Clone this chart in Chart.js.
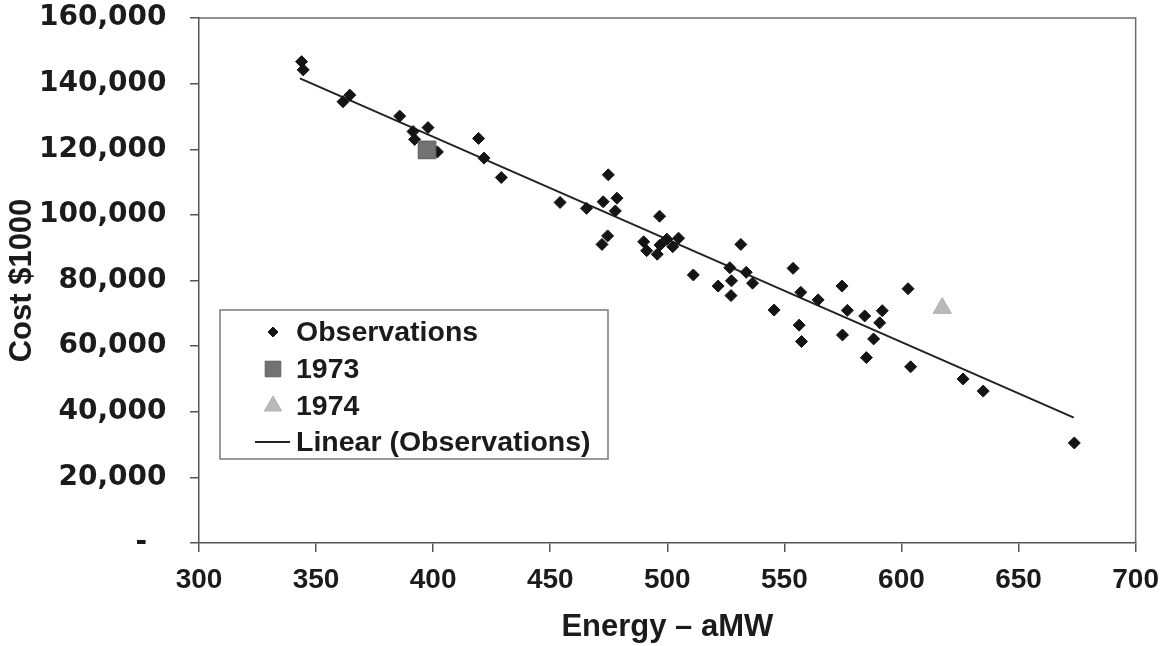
<!DOCTYPE html>
<html>
<head>
<meta charset="utf-8">
<script src="https://cdn.jsdelivr.net/npm/chart.js@4.4.1/dist/chart.umd.min.js"></script>
<style>
  body { margin: 0; background: #fff; }
  canvas { display: block; }
</style>
</head>
<body>
<canvas id="chart" width="1170" height="646"></canvas>
<script>
// observed points, energy in aMW and cost in $1000
const obsEnergy = [343.8, 344.5, 361.5, 364.4, 385.7, 391.4, 392.1, 397.8, 401.8, 419.4,
  421.7, 429.1, 454.2, 465.5, 474.8, 472.6, 478.5, 477.8, 474.5, 472.1,
  496.7, 489.9, 491.2, 495.7, 496.9, 499.8, 502.3, 504.8, 511.1, 521.7,
  526.7, 527.4, 527.2, 531.4, 533.7, 536.4, 545.6, 553.7, 557.0, 556.3,
  557.3, 564.4, 574.6, 576.9, 574.8, 584.3, 591.8, 590.7, 588.1, 585.0,
  602.8, 603.9, 626.3, 634.9, 673.8];
const obsCost = [146700, 144200, 134500, 136500, 130100, 125400, 123000, 126600, 119200, 123300,
  117300, 111400, 103800, 102000, 112200, 104000, 105100, 101200, 93600, 91000,
  99600, 91800, 89100, 88000, 90800, 92600, 90300, 92900, 81700, 78300,
  83900, 79900, 75400, 91000, 82500, 79200, 71000, 83700, 76400, 66400,
  61400, 74100, 78300, 70900, 63400, 69200, 70800, 67100, 62200, 56500,
  77500, 53700, 50000, 46300, 30500];

const yearLabels = ['1973', '1974'];
const yearEnergy = [397.4, 617.4];
const yearCost = [119800, 71600];

// trend line ends as drawn
const trendEnergy = [343.1, 673.6];
const trendCost = [141600, 38200];

const toPoints = (xs, ys) => xs.map((x, i) => ({ x: x, y: ys[i] }));

const FONT = "'Liberation Sans', Arial, sans-serif";
const WIDE = "'DejaVu Sans', Verdana, sans-serif";
const INK = '#1b1b1b';

// legend sits inside the plot, so draw it by hand
const boxLegend = {
  id: 'boxLegend',
  afterDatasetsDraw(chart) {
    const ctx = chart.ctx;
    const a = chart.chartArea;
    const x0 = a.left + 21, y0 = a.top + 292, w = 388, h = 149;
    ctx.save();
    ctx.fillStyle = '#fff';
    ctx.fillRect(x0, y0, w, h);
    ctx.strokeStyle = '#7a7a7a';
    ctx.lineWidth = 1.5;
    ctx.strokeRect(x0, y0, w, h);

    const rows = [22, 59, 96, 132];
    const mx = x0 + 53, tx = x0 + 76;
    chart.data.datasets.forEach(ds => {
      const y = y0 + rows[ds.legendRow];
      if (ds.showLine) {
        ctx.strokeStyle = ds.borderColor;
        ctx.lineWidth = 2;
        ctx.beginPath();
        ctx.moveTo(x0 + 35, y);
        ctx.lineTo(x0 + 70, y);
        ctx.stroke();
      } else {
        ctx.fillStyle = ds.backgroundColor;
        ctx.strokeStyle = ds.borderColor;
        ctx.lineWidth = 1;
        Chart.helpers.drawPoint(ctx, {
          pointStyle: ds.pointStyle, radius: ds.legendRadius, rotation: 0, borderWidth: 1
        }, mx, y);
      }
      ctx.fillStyle = INK;
      ctx.font = 'bold 28.5px ' + FONT;
      ctx.textBaseline = 'middle';
      ctx.fillText(ds.label, tx, y + 1);
    });
    ctx.restore();
  }
};

// top and right edges of the plot box
const frame = {
  id: 'frame',
  beforeDatasetsDraw(chart) {
    const ctx = chart.ctx;
    const a = chart.chartArea;
    ctx.save();
    ctx.strokeStyle = '#6a6a6a';
    ctx.lineWidth = 1.5;
    ctx.beginPath();
    ctx.moveTo(a.left, a.top);
    ctx.lineTo(a.right, a.top);
    ctx.lineTo(a.right, a.bottom);
    ctx.stroke();
    ctx.restore();
  }
};

new Chart(document.getElementById('chart'), {
  type: 'scatter',
  data: {
    datasets: [
      {
        label: 'Linear (Observations)',
        data: toPoints(trendEnergy, trendCost),
        showLine: true,
        borderColor: '#222',
        borderWidth: 2,
        pointRadius: 0,
        legendRow: 3,
        order: 4
      },
      {
        label: 'Observations',
        data: toPoints(obsEnergy, obsCost),
        pointStyle: 'rectRot',
        pointRadius: 6,
        backgroundColor: '#141414',
        borderColor: '#141414',
        borderWidth: 1,
        legendRadius: 5,
        legendRow: 0,
        order: 3
      },
      {
        label: yearLabels[0],
        data: [{ x: yearEnergy[0], y: yearCost[0] }],
        pointStyle: 'rect',
        pointRadius: 12.5,
        backgroundColor: '#727272',
        borderColor: '#5e5e5e',
        borderWidth: 1,
        legendRadius: 11,
        legendRow: 1,
        order: 2
      },
      {
        label: yearLabels[1],
        data: [{ x: yearEnergy[1], y: yearCost[1] }],
        pointStyle: 'triangle',
        pointRadius: 10.5,
        backgroundColor: '#b9b9b9',
        borderColor: '#b0b0b0',
        borderWidth: 1,
        legendRadius: 10,
        legendRow: 2,
        order: 1
      }
    ]
  },
  options: {
    responsive: false,
    animation: false,
    devicePixelRatio: 1,
    layout: { padding: { top: 0, right: 33, left: 0, bottom: 0 } },
    plugins: {
      legend: { display: false },
      tooltip: { enabled: false }
    },
    scales: {
      x: {
        type: 'linear',
        min: 300,
        max: 700,
        afterFit(scale) { scale.height = 103; },
        ticks: {
          stepSize: 50,
          padding: 11,
          color: INK,
          font: { family: FONT, size: 28, weight: 'bold' }
        },
        grid: { drawOnChartArea: false, tickLength: 9, color: '#555', lineWidth: 1.5 },
        border: { display: true, color: '#555', width: 1.5 },
        title: {
          display: true,
          text: 'Energy – aMW',
          color: INK,
          font: { family: FONT, size: 31, weight: 'bold' },
          padding: { top: 0, bottom: 0 }
        }
      },
      y: {
        type: 'linear',
        min: 0,
        max: 160000,
        afterFit(scale) { scale.width = 199; },
        ticks: {
          stepSize: 20000,
          padding: 4,
          color: INK,
          font: { family: WIDE, size: 28, weight: 'bold', lineHeight: 1.0 },
          // trailing spaces keep the labels clear of the tick marks
          callback: v => v === 0 ? '-    ' : v.toLocaleString('en-US') + '  '
        },
        grid: { drawOnChartArea: false, tickLength: 9, color: '#555', lineWidth: 1.5 },
        border: { display: true, color: '#555', width: 1.5 },
        title: {
          display: true,
          text: 'Cost $1000',
          color: INK,
          font: { family: FONT, size: 31, weight: 'bold' },
          padding: { top: 4, bottom: 0 }
        }
      }
    }
  },
  plugins: [frame, boxLegend]
});
</script>
</body>
</html>
